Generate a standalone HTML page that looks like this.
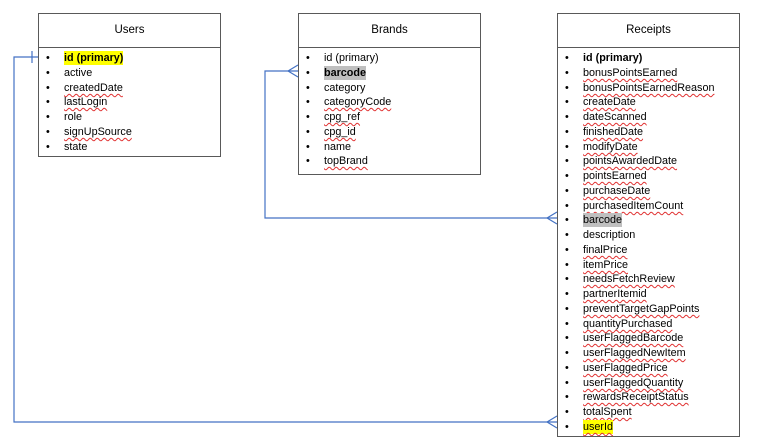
<!DOCTYPE html>
<html><head><meta charset="utf-8"><style>
body{margin:0;width:761px;height:446px;background:#fff;position:relative;overflow:hidden;font-family:"Liberation Sans",Arial,sans-serif;font-size:10.8px;color:#000}
.box{position:absolute;border:1px solid #595959;box-sizing:border-box;background:#fff}
.hd{position:absolute;left:0;right:0;top:0;height:33px;border-bottom:1px solid #595959;text-align:center;line-height:33px;font-size:11.5px}
.r{position:absolute;left:0;height:14px;line-height:14px;white-space:nowrap;margin-top:1px}
.r b.bul{position:absolute;left:7px;font-weight:normal}
.r span{position:absolute;left:25px}
.sq{text-decoration:underline wavy #e03030;text-decoration-thickness:1px;text-underline-offset:2px}
.hy{background:#ffff00;font-weight:bold}
.gr{background:#bfbfbf}
svg{position:absolute;left:0;top:0}
</style></head><body>
<svg width="761" height="446"><g stroke="#4472C4" stroke-width="1.2" fill="none">
<polyline points="38,57 14,57 14,422 557,422"/>
<line x1="32" y1="51" x2="32" y2="63"/>
<line x1="547" y1="422" x2="557" y2="416"/><line x1="547" y1="422" x2="557" y2="428"/>
<polyline points="298,71 265,71 265,218 557,218"/>
<line x1="288" y1="71" x2="298" y2="65"/><line x1="288" y1="71" x2="298" y2="77"/>
<line x1="547" y1="218" x2="557" y2="212"/><line x1="547" y1="218" x2="557" y2="224"/>
</g></svg>
<div class="box" style="left:38px;top:13px;width:183px;height:144px"><div class="hd">Users</div>
<div class="r" style="top:36px"><b class="bul">•</b><span class="hy">id (primary)</span></div>
<div class="r" style="top:51px"><b class="bul">•</b><span>active</span></div>
<div class="r" style="top:66px"><b class="bul">•</b><span class="sq">createdDate</span></div>
<div class="r" style="top:80px"><b class="bul">•</b><span class="sq">lastLogin</span></div>
<div class="r" style="top:95px"><b class="bul">•</b><span>role</span></div>
<div class="r" style="top:110px"><b class="bul">•</b><span class="sq">signUpSource</span></div>
<div class="r" style="top:125px"><b class="bul">•</b><span>state</span></div>
</div>
<div class="box" style="left:298px;top:13px;width:183px;height:162px"><div class="hd">Brands</div>
<div class="r" style="top:36px"><b class="bul">•</b><span>id (primary)</span></div>
<div class="r" style="top:51px"><b class="bul">•</b><span class="gr" style="font-weight:bold">barcode</span></div>
<div class="r" style="top:66px"><b class="bul">•</b><span>category</span></div>
<div class="r" style="top:80px"><b class="bul">•</b><span class="sq">categoryCode</span></div>
<div class="r" style="top:95px"><b class="bul">•</b><span class="sq">cpg_ref</span></div>
<div class="r" style="top:110px"><b class="bul">•</b><span class="sq">cpg_id</span></div>
<div class="r" style="top:125px"><b class="bul">•</b><span>name</span></div>
<div class="r" style="top:139px"><b class="bul">•</b><span class="sq">topBrand</span></div>
</div>
<div class="box" style="left:557px;top:13px;width:183px;height:424px"><div class="hd">Receipts</div>
<div class="r" style="top:36px"><b class="bul">•</b><span style="font-weight:bold">id (primary)</span></div>
<div class="r" style="top:51px"><b class="bul">•</b><span class="sq">bonusPointsEarned</span></div>
<div class="r" style="top:66px"><b class="bul">•</b><span class="sq">bonusPointsEarnedReason</span></div>
<div class="r" style="top:80px"><b class="bul">•</b><span class="sq">createDate</span></div>
<div class="r" style="top:95px"><b class="bul">•</b><span class="sq">dateScanned</span></div>
<div class="r" style="top:110px"><b class="bul">•</b><span class="sq">finishedDate</span></div>
<div class="r" style="top:125px"><b class="bul">•</b><span class="sq">modifyDate</span></div>
<div class="r" style="top:139px"><b class="bul">•</b><span class="sq">pointsAwardedDate</span></div>
<div class="r" style="top:154px"><b class="bul">•</b><span class="sq">pointsEarned</span></div>
<div class="r" style="top:169px"><b class="bul">•</b><span class="sq">purchaseDate</span></div>
<div class="r" style="top:184px"><b class="bul">•</b><span class="sq">purchasedItemCount</span></div>
<div class="r" style="top:198px"><b class="bul">•</b><span class="gr">barcode</span></div>
<div class="r" style="top:213px"><b class="bul">•</b><span>description</span></div>
<div class="r" style="top:228px"><b class="bul">•</b><span class="sq">finalPrice</span></div>
<div class="r" style="top:243px"><b class="bul">•</b><span class="sq">itemPrice</span></div>
<div class="r" style="top:257px"><b class="bul">•</b><span class="sq">needsFetchReview</span></div>
<div class="r" style="top:272px"><b class="bul">•</b><span class="sq">partnerItemid</span></div>
<div class="r" style="top:287px"><b class="bul">•</b><span class="sq">preventTargetGapPoints</span></div>
<div class="r" style="top:302px"><b class="bul">•</b><span class="sq">quantityPurchased</span></div>
<div class="r" style="top:316px"><b class="bul">•</b><span class="sq">userFlaggedBarcode</span></div>
<div class="r" style="top:331px"><b class="bul">•</b><span class="sq">userFlaggedNewItem</span></div>
<div class="r" style="top:346px"><b class="bul">•</b><span class="sq">userFlaggedPrice</span></div>
<div class="r" style="top:361px"><b class="bul">•</b><span class="sq">userFlaggedQuantity</span></div>
<div class="r" style="top:375px"><b class="bul">•</b><span class="sq">rewardsReceiptStatus</span></div>
<div class="r" style="top:390px"><b class="bul">•</b><span class="sq">totalSpent</span></div>
<div class="r" style="top:405px"><b class="bul">•</b><span class="sq" style="background:#ffff00">userId</span></div>
</div>
</body></html>
